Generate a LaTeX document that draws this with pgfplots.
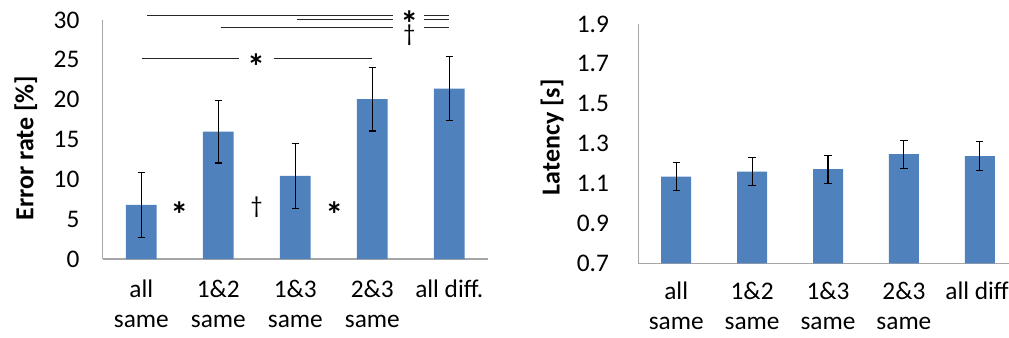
\documentclass[border=0pt]{standalone}
\usepackage{fontspec}
\setmainfont{Carlito}
\usepackage{pgfplots}
\pgfplotsset{compat=1.18}
\definecolor{barblue}{HTML}{4F81BD}
\definecolor{axgray}{HTML}{A6A6A6}
\begin{document}
\begin{tikzpicture}
\tikzset{sig/.style={line width=0.9pt, black!85},
  star/.style={anchor=base, inner sep=0pt, font=\fontsize{27}{28}\selectfont\bfseries, yshift=-14.5pt},
  dag/.style={anchor=base, inner sep=0pt, font=\fontsize{18}{20}\selectfont, yshift=-5.2pt}}
\pgfplotsset{
  common/.style={
    scale only axis,
    axis lines=left,
    axis line style={-, draw=axgray, line width=1pt},
    xmin=-0.5, xmax=4.5,
    xtick={0,1,2,3,4},
    major tick length=0pt,
    tick style={draw=none},
    ybar, bar width=23pt,
    /pgf/number format/assume math mode=true,
    tick label style={font=\fontsize{19}{22.5}\selectfont},
    xticklabel style={align=center, anchor=north},
    ylabel style={font=\fontsize{19.5}{22}\selectfont\bfseries, anchor=center, rotate=0},
  },
  errs/.style={
    fill=barblue, draw=none,
    error bars/.cd, y dir=both, y explicit,
    error bar style={line width=0.8pt, black},
    error mark options={rotate=90, mark size=2.75pt, line width=0.8pt, black},
  },
}
\begin{axis}[common,
  at={(77.1pt,58.5pt)}, anchor=south west,
  width=288.75pt, height=179.25pt,
  ymin=0, ymax=30, ytick={0,5,...,30},
  clip=false,
  yticklabel style={xshift=-14pt},
  xticklabel style={yshift=-12pt},
  xticklabels={all\\same, 1\&2\\same, 1\&3\\same, 2\&3\\same, all diff.},
  ylabel={Error rate [\%]},
  ylabel style={at={(axis description cs:-0.2,0.464)}},
]
\addplot+[errs] coordinates {
  (0,6.78) +- (0,4.05)
  (1,16.0) +- (0,3.95)
  (2,10.42) +- (0,4.1)
  (3,20.07) +- (0,4.0)
  (4,21.4) +- (0,4.05)
};
\draw[sig] (axis cs:0.078,30.53) -- (axis cs:3.265,30.53);
\draw[sig] (axis cs:2.018,30.11) -- (axis cs:3.265,30.11);
\draw[sig] (axis cs:3.675,30.53) -- (axis cs:3.996,30.53);
\draw[sig] (axis cs:3.675,30.11) -- (axis cs:3.996,30.11);
\draw[sig] (axis cs:1.031,29.02) -- (axis cs:3.265,29.02);
\draw[sig] (axis cs:3.675,29.02) -- (axis cs:3.996,29.02);
\draw[sig] (axis cs:0.013,25.18) -- (axis cs:1.273,25.18);
\draw[sig] (axis cs:1.723,25.18) -- (axis cs:2.992,25.18);
\node[star] at (axis cs:3.48,30.3) {*};
\node[dag] at (axis cs:3.48,28.15) {†};
\node[star] at (axis cs:1.49,24.97) {*};
\node[star] at (axis cs:0.494,6.36) {*};
\node[dag] at (axis cs:1.499,6.52) {†};
\node[star] at (axis cs:2.506,6.36) {*};
\end{axis}
\begin{axis}[common,
  at={(478.7pt,55.3pt)}, anchor=south west,
  width=284.6pt, height=179.5pt,
  ymin=0.7, ymax=1.9, ytick={0.7,0.9,...,1.95},
  yticklabel style={xshift=-18.5pt, /pgf/number format/.cd, fixed, fixed zerofill, precision=1},
  xticklabel style={yshift=-10.5pt},
  xticklabels={all\\same, 1\&2\\same, 1\&3\\same, 2\&3\\same, all diff\hspace*{4pt}},
  ylabel={Latency [s]},
  ylabel style={at={(axis description cs:-0.227,0.526)}},
  bar width=22.5pt,
]
\addplot+[errs] coordinates {
  (0,1.135) +- (0,0.07)
  (1,1.16) +- (0,0.07)
  (2,1.172) +- (0,0.07)
  (3,1.247) +- (0,0.07)
  (4,1.237) +- (0,0.072)
};
\end{axis}
\pgfresetboundingbox
\path[use as bounding box] (0,0) rectangle (756.75pt,252.75pt);
\end{tikzpicture}
\end{document}
